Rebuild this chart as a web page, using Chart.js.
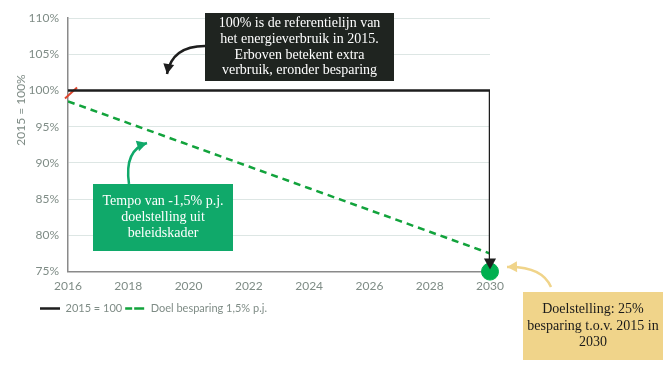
<!DOCTYPE html>
<html>
<head>
<meta charset="utf-8">
<script src="https://cdn.jsdelivr.net/npm/chart.js@4.4.0/dist/chart.umd.min.js"></script>
<style>
  html, body { margin: 0; padding: 0; background: #fff; }
  #wrap { width: 671px; height: 371px; position: relative; }
</style>
</head>
<body>
<div id="wrap"><canvas id="chart" width="671" height="371"></canvas></div>
<script>
// data
const years = [2016, 2017, 2018, 2019, 2020, 2021, 2022, 2023, 2024, 2025, 2026, 2027, 2028, 2029, 2030];
const targetValues = [98.5, 97, 95.5, 94, 92.5, 91, 89.5, 88, 86.5, 85, 83.5, 82, 80.5, 79, 77.5];
const baseYears = [2016, 2030, 2030];
const baseValues = [100, 100, 75.8];
const goalYear = [2030];
const goalValue = [75];
const redYears = [2015.9, 2016.3];
const redValues = [98.9, 100.4];
const seriesNames = ['2015 = 100', 'Doel besparing 1,5% p.j.'];
const yTitle = '2015 = 100%';

const tickColor = '#7f8c86';
const sans = 'Lato, "Open Sans", sans-serif';
const serif = '"Liberation Serif", "DejaVu Serif", serif';

const toPoints = (xs, ys) => xs.map((x, i) => ({ x: x, y: ys[i] }));

function arrowHead(ctx, x, y, angle, size, color) {
  ctx.save();
  ctx.translate(x, y);
  ctx.rotate(angle);
  ctx.fillStyle = color;
  ctx.beginPath();
  ctx.moveTo(0, 0);
  ctx.lineTo(-size, -size * 0.55);
  ctx.lineTo(-size, size * 0.55);
  ctx.closePath();
  ctx.fill();
  ctx.restore();
}

function curvedArrow(ctx, x0, y0, cx, cy, x1, y1, color) {
  ctx.save();
  ctx.strokeStyle = color;
  ctx.lineWidth = 2.5;
  ctx.beginPath();
  ctx.moveTo(x0, y0);
  ctx.quadraticCurveTo(cx, cy, x1, y1);
  ctx.stroke();
  ctx.restore();
  arrowHead(ctx, x1, y1, Math.atan2(y1 - cy, x1 - cx), 10, color);
}

function noteBox(ctx, x, y, w, h, bg, fg, lines, lh) {
  ctx.save();
  ctx.fillStyle = bg;
  ctx.fillRect(x, y, w, h);
  ctx.fillStyle = fg;
  ctx.font = '14px ' + serif;
  ctx.textAlign = 'center';
  ctx.textBaseline = 'middle';
  const top = y + h / 2 - (lines.length - 1) * lh / 2;
  lines.forEach((t, i) => ctx.fillText(t, x + w / 2, top + i * lh));
  ctx.restore();
}

const notes = {
  id: 'notes',
  afterLayout(chart) {
    // legend starts a little further in, under the y labels
    chart.legend.left += 27;
  },
  afterDatasetsDraw(chart) {
    const ctx = chart.ctx;
    const xs = chart.scales.x, ys = chart.scales.y;
    // arrow at the end of the 100% line
    arrowHead(ctx, xs.getPixelForValue(2030), ys.getPixelForValue(75.3), Math.PI / 2, 11, '#1e1e1e');

    // y axis title sits above the middle in the original
    ctx.save();
    ctx.translate(21, 110);
    ctx.rotate(-Math.PI / 2);
    ctx.fillStyle = tickColor;
    ctx.font = '12px ' + sans;
    ctx.textAlign = 'center';
    ctx.textBaseline = 'middle';
    ctx.fillText(yTitle, 0, 0);
    ctx.restore();

    noteBox(ctx, 205, 13, 189, 68, '#1f2420', '#ffffff',
      ['100% is de referentielijn van', 'het energieverbruik in 2015.', 'Erboven betekent extra', 'verbruik, eronder besparing'], 15.8);
    curvedArrow(ctx, 205, 46, 172, 46, 167, 74, '#1e1e1e');

    noteBox(ctx, 93, 184, 140, 67, '#10a96a', '#ffffff',
      ['Tempo van -1,5% p.j.', 'doelstelling uit', 'beleidskader'], 16);
    curvedArrow(ctx, 129, 184, 124, 150, 147, 143, '#10a96a');

    noteBox(ctx, 523, 292, 140, 68, '#f0d48a', '#1a1a1a',
      ['Doelstelling: 25%', 'besparing t.o.v. 2015 in', '2030'], 16.5);
    curvedArrow(ctx, 551, 287, 542, 266, 507, 267, '#f0d48a');
  }
};

new Chart(document.getElementById('chart'), {
  type: 'line',
  data: {
    datasets: [
      {
        label: seriesNames[0],
        data: toPoints(baseYears, baseValues),
        borderColor: '#1e1e1e',
        backgroundColor: '#1e1e1e',
        borderWidth: 2.5,
        pointRadius: 0,
        tension: 0
      },
      {
        label: seriesNames[1],
        data: toPoints(years, targetValues),
        borderColor: '#12a33c',
        backgroundColor: '#12a33c',
        borderWidth: 2.5,
        borderDash: [7, 5],
        pointRadius: 0,
        tension: 0
      },
      {
        label: 'goal',
        data: toPoints(goalYear, goalValue),
        showLine: false,
        pointRadius: 8.5,
        pointBackgroundColor: '#00b050',
        pointBorderColor: '#00b050',
        clip: false
      },
      {
        label: 'red',
        data: toPoints(redYears, redValues),
        borderColor: '#e0442c',
        borderWidth: 2,
        pointRadius: 0,
        clip: false
      }
    ]
  },
  options: {
    responsive: false,
    animation: false,
    layout: { padding: { left: 10, right: 181, top: 18, bottom: 47 } },
    plugins: {
      tooltip: { enabled: false },
      legend: {
        position: 'bottom',
        align: 'start',
        labels: {
          filter: (item) => item.datasetIndex < 2,
          boxWidth: 20,
          boxHeight: 0,
          padding: 3,
          color: tickColor,
          font: { family: sans, size: 11 }
        }
      }
    },
    scales: {
      x: {
        type: 'linear',
        min: 2016,
        max: 2030,
        ticks: {
          stepSize: 2,
          padding: 7,
          color: tickColor,
          font: { family: sans, size: 12 },
          callback: (v) => String(v)
        },
        grid: { display: false, drawTicks: false },
        border: { color: '#8a8a8a', width: 1.5 }
      },
      y: {
        min: 75,
        max: 110,
        afterFit: (s) => { s.width = 58; },
        ticks: {
          stepSize: 5,
          padding: 9,
          color: tickColor,
          font: { family: sans, size: 12 },
          callback: (v) => v + '%'
        },
        grid: { color: '#dde6e4', drawTicks: false },
        border: { color: '#8a8a8a', width: 1.5 }
      }
    }
  },
  plugins: [notes]
});
</script>
</body>
</html>
